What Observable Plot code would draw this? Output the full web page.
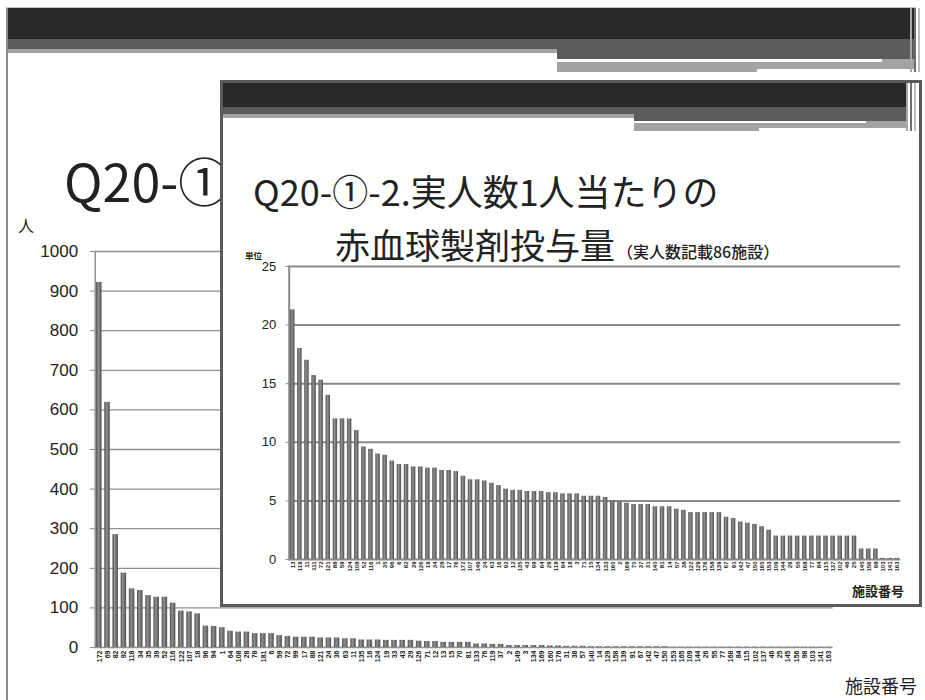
<!DOCTYPE html>
<html lang="ja">
<head>
<meta charset="utf-8">
<script src="https://cdn.jsdelivr.net/npm/d3@7"></script>
<script src="https://cdn.jsdelivr.net/npm/@observablehq/plot@0.6"></script>
<style>
  html, body { margin: 0; padding: 0; background: #fff; }
  #slide { position: relative; width: 925px; height: 700px; overflow: hidden; background: #fff;
           font-family: "Noto Sans CJK JP", "Noto Sans", sans-serif; color: #222; }
  #inset { position: absolute; left: 220px; top: 80px; width: 696px; height: 521px;
           border: 3px solid #5a5a5a; background: #fff; z-index: 2; }
</style>
</head>
<body>
<div id="slide"><div id="inset"></div></div>
<script>
// Q20-① : transfusion patients per facility (人)
const facilityIds = [
  "172","69","82","92","118","34","35","39","52","116",
  "122","107","18","96","94","1","64","108","28","78",
  "181","6","59","72","99","17","88","121","24","36",
  "63","11","135","16","124","19","33","43","29","126",
  "71","12","13","15","70","81","133","76","119","37",
  "2","149","3","134","169","160","176","31","38","57",
  "140","14","129","158","139","91","67","142","47","150",
  "153","165","109","144","26","55","77","168","84","115",
  "102","137","46","25","145","156","98","103","141","163"
];
const patientCounts = [
  922, 619, 285, 188, 148, 144, 131, 127, 127, 112,
  92, 90, 85, 54, 53, 50, 41, 39, 39, 35,
  35, 35, 30, 28, 26, 26, 26, 24, 24, 24,
  22, 22, 19, 19, 19, 18, 18, 18, 18, 16,
  15, 15, 13, 13, 13, 13, 9, 9, 8, 8,
  5, 5, 5, 5, 5, 4, 4, 3, 3, 3,
  2, 2, 2, 2, 2, 2, 2, 2, 2, 2,
  1, 1, 1, 1, 1, 1, 1, 1, 1, 1,
  1, 1, 1, 1, 1, 1, 1, 1, 1, 1
];
const countTicks = [0, 100, 200, 300, 400, 500, 600, 700, 800, 900, 1000];

// Q20-①-2 : red cell units per patient (86 facilities reporting patient numbers)
const perPatientIds = [
  "13","119","11","111","72","121","88","59","124","108",
  "52","116","1","35","96","6","82","39","126","19",
  "34","28","17","76","172","107","149","24","63","16",
  "92","12","135","43","99","64","29","118","94","18",
  "3","71","15","134","133","160","2","169","70","37",
  "31","140","81","14","57","38","122","129","176","158",
  "139","67","91","142","47","150","165","153","109","144",
  "26","55","168","77","84","115","137","102","46","25",
  "145","156","98","103","141","163"
];
const unitsPerPatient = [
  21.3, 18.0, 17.0, 15.7, 15.3, 14.0, 12.0, 12.0, 12.0, 11.0,
  9.6, 9.4, 9.0, 8.9, 8.4, 8.1, 8.1, 7.9, 7.9, 7.8,
  7.8, 7.6, 7.6, 7.5, 7.1, 6.8, 6.8, 6.7, 6.5, 6.3,
  6.0, 5.9, 5.9, 5.8, 5.8, 5.8, 5.7, 5.7, 5.6, 5.6,
  5.6, 5.4, 5.4, 5.4, 5.3, 5.0, 4.95, 4.8, 4.7, 4.7,
  4.7, 4.5, 4.5, 4.5, 4.3, 4.2, 4.0, 4.0, 4.0, 4.0,
  4.0, 3.6, 3.5, 3.2, 3.1, 3.0, 2.8, 2.5, 2.0, 2.0,
  2.0, 2.0, 2.0, 2.0, 2.0, 2.0, 2.0, 2.0, 2.0, 2.0,
  0.9, 0.9, 0.9, 0.1, 0.1, 0.1
];
const unitTicks = [0, 5, 10, 15, 20, 25];

const slide = document.getElementById("slide");
const SVGNS = "http://www.w3.org/2000/svg";

// flat slide-theme stripes
function band(x, y, w, h, color, z) {
  const d = document.createElement("div");
  d.style.cssText = `position:absolute;left:${x}px;top:${y}px;width:${w}px;height:${h}px;background:${color};z-index:${z};`;
  slide.appendChild(d);
}
function place(node, x, y, z) {
  node.style.position = "absolute";
  node.style.left = x + "px";
  node.style.top = y + "px";
  node.style.zIndex = z;
  node.style.maxWidth = "none";
  slide.appendChild(node);
}
function addShade(svg, id) {
  const defs = document.createElementNS(SVGNS, "defs");
  defs.innerHTML =
    `<linearGradient id="${id}" x1="0" x2="1" y1="0" y2="0">` +
    `<stop offset="0" stop-color="#4e4e4e"/><stop offset="0.4" stop-color="#909090"/>` +
    `<stop offset="1" stop-color="#505050"/></linearGradient>`;
  svg.insertBefore(defs, svg.firstChild);
}
function textLayer(z) {
  const s = d3.create("svg").attr("width", 925).attr("height", 700)
    .style("position", "absolute").style("left", "0px").style("top", "0px")
    .style("z-index", z).style("pointer-events", "none");
  slide.appendChild(s.node());
  return s;
}
function label(layer, x, y, str, size, weight = 400, family = "'Noto Sans CJK JP', sans-serif") {
  layer.append("text").attr("x", x).attr("y", y)
    .attr("font-size", size).attr("font-weight", weight)
    .attr("font-family", family).attr("fill", "#222").text(str);
}
const plain = d => String(d);

// slide header
band(6, 7, 910, 1.5, "#c4c4c4", 1);
band(6, 8, 908, 31, "#282828", 1);
band(6, 39, 908, 10, "#5b5b5b", 1);
band(6, 49, 551, 4, "#a3a3a3", 1);
band(557, 49, 357, 10, "#5b5b5b", 1);
band(557, 59, 325, 2.5, "#ffffff", 1);
band(882, 59, 32, 2.5, "#a3a3a3", 1);
band(557, 61.5, 357, 7, "#a3a3a3", 1);
band(557, 68.5, 200, 3, "#a3a3a3", 1);
band(910, 8, 2, 64, "#a8a8a8", 1);
band(914, 8, 2, 64, "#6e6e6e", 1);
band(918, 8, 2, 64, "#bdbdbd", 1);
band(6, 8, 1.5, 692, "#8a8a8a", 1);

// main chart: patients per facility
const mainRows = facilityIds.map((id, i) => ({id, n: patientCounts[i]}));
const mainChart = Plot.plot({
  width: 925, height: 700,
  marginTop: 251, marginBottom: 53, marginLeft: 94.7, marginRight: 92.3,
  style: {background: "transparent", fontFamily: "'Liberation Sans', Arial, sans-serif", color: "#222"},
  x: {type: "band", domain: facilityIds, paddingInner: 0.33, paddingOuter: 0.165, round: false},
  y: {domain: [0, 1000]},
  marks: [
    Plot.gridY(countTicks, {stroke: "#8f8f8f", strokeOpacity: 1, strokeWidth: 1.3}),
    Plot.frame({anchor: "left", stroke: "#8f8f8f", strokeWidth: 1.5}),
    Plot.barY(mainRows, {x: "id", y: "n", fill: "url(#shadeMain)"}),
    Plot.axisY(countTicks, {tickSize: 5, tickPadding: 12, fontSize: 17, label: null, stroke: "#8f8f8f", tickFormat: plain}),
    Plot.axisX({tickRotate: -90, tickSize: 0, tickPadding: 3, fontSize: 7, fontWeight: "bold", label: null})
  ]
});
addShade(mainChart, "shadeMain");
place(mainChart, 0, 0, 1);

const mainText = textLayer(1);
label(mainText, 64, 202, "Q20-①", 52);
label(mainText, 18, 232, "人", 16);
label(mainText, 845, 693, "施設番号", 18);

// inset header stripes
band(223, 83, 683, 24, "#282828", 3);
band(223, 107, 683, 7, "#5b5b5b", 3);
band(223, 114, 411, 4, "#a3a3a3", 3);
band(634, 114, 272, 7, "#5b5b5b", 3);
band(634, 121, 232, 2, "#ffffff", 3);
band(866, 121, 40, 2, "#a3a3a3", 3);
band(634, 123, 272, 5, "#a3a3a3", 3);
band(634, 128, 125, 3, "#a3a3a3", 3);
band(906, 83, 2, 48, "#a8a8a8", 3);
band(910, 83, 2, 48, "#6e6e6e", 3);
band(914, 83, 2, 48, "#bdbdbd", 3);

// inset chart: units per patient
const insetRows = perPatientIds.map((id, i) => ({id, v: unitsPerPatient[i]}));
const insetChart = Plot.plot({
  width: 702, height: 357,
  marginTop: 16, marginBottom: 48, marginLeft: 68.7, marginRight: 21.8,
  style: {background: "transparent", fontFamily: "'Liberation Sans', Arial, sans-serif", color: "#222"},
  x: {type: "band", domain: perPatientIds, paddingInner: 0.37, paddingOuter: 0.185, round: false},
  y: {domain: [0, 25]},
  marks: [
    Plot.gridY(unitTicks, {stroke: "#8a8a8a", strokeOpacity: 1, strokeWidth: 2}),
    Plot.frame({anchor: "left", stroke: "#8a8a8a", strokeWidth: 2}),
    Plot.barY(insetRows, {x: "id", y: "v", fill: "url(#shadeInset)"}),
    Plot.axisY(unitTicks, {tickSize: 3, tickPadding: 10, fontSize: 13, label: null, stroke: "#8a8a8a", tickFormat: plain}),
    Plot.axisX({tickRotate: -90, tickSize: 0, tickPadding: 2, fontSize: 6, fontWeight: "bold", label: null})
  ]
});
addShade(insetChart, "shadeInset");
place(insetChart, 220, 250, 3);

const insetText = textLayer(4);
label(insetText, 253, 206, "Q20-①-2.実人数1人当たりの", 36);
label(insetText, 335, 259, "赤血球製剤投与量", 35);
label(insetText, 617, 258, "（実人数記載86施設）", 16, 500);
label(insetText, 245, 259, "単位", 8.5, 700);
label(insetText, 852, 596, "施設番号", 13, 700);
</script>
</body>
</html>
